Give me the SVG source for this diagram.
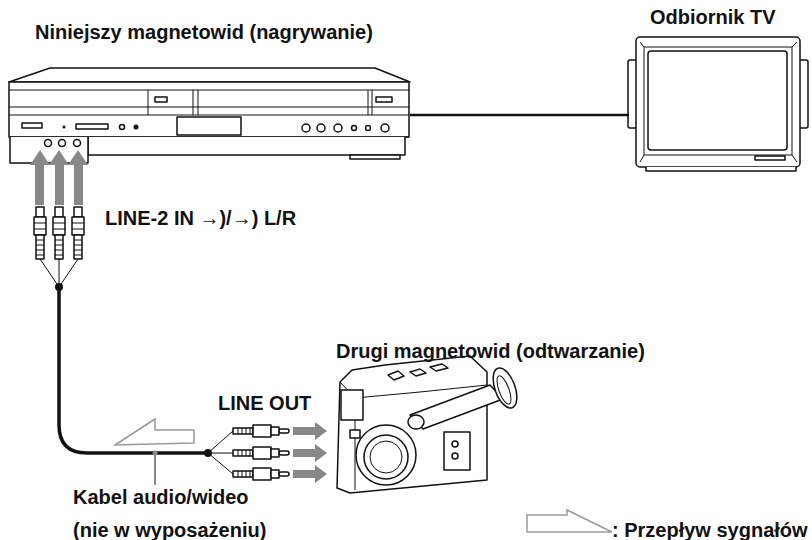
<svg xmlns="http://www.w3.org/2000/svg" width="812" height="540" viewBox="0 0 812 540">
<style>
.o{fill:#fff;stroke:#111;stroke-width:1.5;stroke-linejoin:round}
.t{stroke:#111;stroke-width:1;fill:none}
.g{fill:#888}
text{font-family:"Liberation Sans",Arial,sans-serif;font-size:20px;font-weight:bold;fill:#111}
</style>
<defs>
<g id="plugV">
<rect x="-4" y="0" width="8" height="10" class="o"/>
<rect x="-6" y="10" width="12" height="18" class="o"/>
<path d="M-6 16h12M-6 22h12" class="t"/>
<rect x="-4" y="28" width="8" height="24" class="o"/>
<path d="M-4 33h8M-4 38h8M-4 43h8M-4 48h8" class="t"/>
</g>
<g id="plugH">
<rect x="0" y="-3" width="20" height="6" class="o"/>
<path d="M5 -3v6M9 -3v6M13 -3v6M17 -3v6" class="t"/>
<rect x="20" y="-6" width="18" height="12" class="o"/>
<rect x="38" y="-4" width="8" height="8" class="o"/>
<rect x="46" y="-2" width="10" height="4" rx="2" class="o"/>
</g>
</defs>
<g id="vcr">
<path d="M50 68 L375 68 L410 82 L9 82 Z" class="o"/>
<rect x="9" y="82" width="400" height="55" class="o"/>
<path d="M9 90h400M9 107h400M9 115h400M9 137h400" class="t"/>
<path d="M148 90v25M193 90v25M198 90v25M368 90v25M372 90v25" class="t"/>
<rect x="155" y="97" width="12" height="5" class="o"/>
<rect x="376" y="97" width="16" height="5" class="o"/>
<rect x="22" y="123" width="20" height="5" class="o"/>
<circle cx="64" cy="127" r="1.5" fill="#111"/>
<rect x="76" y="124" width="32" height="5" class="o"/>
<circle cx="122" cy="127" r="2.5" class="o"/><circle cx="136" cy="127" r="2.5" fill="#111"/>
<rect x="177" y="117" width="64" height="18" class="o"/>
<circle cx="306" cy="128" r="4" class="o"/><circle cx="321" cy="128" r="4" class="o"/><circle cx="338" cy="128" r="4" class="o"/>
<circle cx="354" cy="128" r="2.5" class="o"/><circle cx="368" cy="128" r="2.5" class="o"/><circle cx="385" cy="128" r="4" class="o"/>
<path d="M88 137 V155 L405 155 L405 137" class="o"/>
<path d="M350 155h50v4h-50z" class="o"/>
<path d="M10 137 V163 L88 163 V137" class="o"/>
<circle cx="48" cy="143" r="3.5" class="o"/><circle cx="62" cy="143" r="3.5" class="o"/><circle cx="77" cy="143" r="3.5" class="o"/>
</g>
<g id="tv">
<rect x="628" y="60" width="9" height="68" rx="2" class="o"/>
<rect x="799" y="60" width="9" height="68" rx="2" class="o"/>
<rect x="636" y="37" width="164" height="130" rx="4" class="o"/>
<path d="M640 42 L644 47 L792 47 L797 42 M644 47 V155 L792 155 V47 M644 155 L640 162 M792 155 L797 162" class="t"/>
<rect x="648" y="51" width="139" height="99" rx="3" class="o"/>
<rect x="755" y="156" width="30" height="4" class="o"/>
<path d="M646 167v4h150v-4" class="o"/>
</g>
<g id="camera">
<path d="M340 382 L352 370 L385 365 L470 356 L487 372 L487 480 L350 493 L337 488 Z" class="o"/>
<path d="M340 382 L355 398 L355 490 M355 398 L420 392 L487 385" class="t"/>
<rect x="341" y="390" width="22" height="30" class="o"/>
<rect x="350" y="430" width="10" height="8" class="o"/>
<path d="M410 415 L490 385 L503 399 L423 429 Z" class="o"/>
<ellipse cx="416" cy="422" rx="8" ry="7" class="o"/>
<ellipse cx="505" cy="388" rx="10" ry="21" transform="rotate(-20 505 388)" class="o"/>
<ellipse cx="504" cy="390" rx="5" ry="15" transform="rotate(-20 504 390)" class="t"/>
<path d="M388 375 l10-4 l6 5 l-10 4z M410 372 l10-3 l6 4 l-10 3z M430 367 l12-3 l6 4 l-12 3z" class="o"/>
<circle cx="386" cy="455" r="30" class="o"/>
<circle cx="386" cy="457" r="22" class="o"/>
<circle cx="386" cy="457" r="16" class="t"/>
<rect x="444" y="432" width="26" height="38" class="o"/>
<circle cx="455" cy="444" r="3" class="o"/><circle cx="455" cy="456" r="3" class="o"/>
</g>
<g id="connectors">
<path d="M59 287 L40 259 M59 287 V259 M59 287 L78 259" class="t" stroke-width="1.5"/>
<path d="M59 287 V425 Q59 453 87 453 H208" fill="none" stroke="#111" stroke-width="3.5"/>
<circle cx="59" cy="287" r="4" fill="#111"/>
<path d="M410 115 H629" stroke="#111" stroke-width="2.5"/>
<path d="M208 453 L233 431 M208 453 H233 M208 453 L233 474" class="t" stroke-width="1.5"/>
<circle cx="208" cy="453" r="4" fill="#111"/>
<use href="#plugV" x="40" y="207"/><use href="#plugV" x="59" y="207"/><use href="#plugV" x="78" y="207"/>
<use href="#plugH" x="233" y="431"/><use href="#plugH" x="233" y="453"/><use href="#plugH" x="233" y="474"/>
<g class="g">
<path d="M35 205 V165 H30 L40 150 L50 165 H44 V205 Z"/>
<path d="M55 205 V165 H49 L59 150 L69 165 H64 V205 Z"/>
<path d="M74 205 V165 H68 L78 150 L88 165 H83 V205 Z"/>
<path d="M293 427 H315 V422 L327 431 L315 440 V435 H293 Z"/>
<path d="M293 449 H315 V444 L327 453 L315 462 V457 H293 Z"/>
<path d="M293 470 H315 V465 L327 474 L315 483 V478 H293 Z"/>
</g>
<path d="M115 445 L155 419 V430 H194 V443 Z" fill="none" stroke="#999" stroke-width="1.5"/>
<path d="M155 453 V485" stroke="#888" stroke-width="2"/>
<circle cx="155" cy="453" r="2.5" fill="#888"/>
<path d="M527 515 H567 V510 L612 532 H527 Z" fill="none" stroke="#999" stroke-width="1.5"/>
</g>
<text x="35" y="39">Niniejszy magnetowid (nagrywanie)</text>
<text x="650" y="24">Odbiornik TV</text>
<text x="105" y="225">LINE-2 IN →)/→) L/R</text>
<text x="336" y="358">Drugi magnetowid (odtwarzanie)</text>
<text x="218" y="410">LINE OUT</text>
<text x="73" y="504">Kabel audio/wideo</text>
<text x="73" y="537">(nie w wyposażeniu)</text>
<text x="612" y="537">: Przepływ sygnałów</text>
</svg>
